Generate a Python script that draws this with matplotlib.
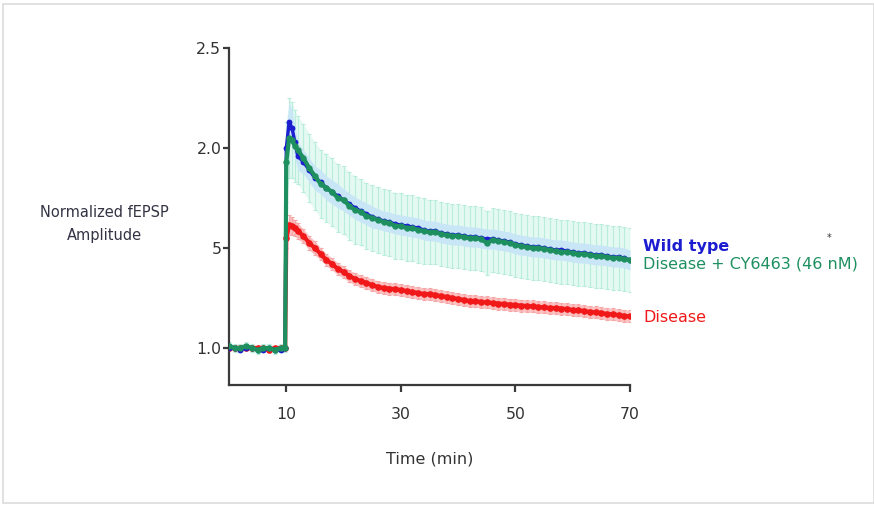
import numpy as np
import matplotlib
matplotlib.use("Agg")
import matplotlib.pyplot as plt
from matplotlib.patches import Rectangle

# ---------------- data ----------------
t_base = [0, 1, 2, 3, 4, 5, 6, 7, 8, 9, 9.8]
t_post = [10.0, 10.5, 11.0, 11.5] + list(range(12, 71))

green_base = [1.01, 1.00, 1.00, 1.01, 1.00, 0.99, 1.00, 1.00, 0.99, 1.00, 1.00]
blue_base = [1.00, 1.00, 0.99, 1.00, 1.00, 0.99, 0.99, 1.00, 0.99, 0.99, 1.00]
red_base = [1.00, 1.00, 1.00, 1.00, 1.00, 1.00, 1.00, 0.99, 1.00, 1.00, 1.00]

green_post = [1.93, 2.05, 2.04, 2.01, 1.99, 1.95, 1.90, 1.86, 1.82, 1.80,
              1.78, 1.75, 1.74, 1.71, 1.69, 1.68, 1.66, 1.65, 1.64, 1.63,
              1.625, 1.61, 1.61, 1.60, 1.60, 1.59, 1.585, 1.58, 1.58, 1.57,
              1.565, 1.56, 1.56, 1.555, 1.55, 1.55, 1.545, 1.525, 1.54, 1.535,
              1.53, 1.525, 1.515, 1.51, 1.505, 1.50, 1.50, 1.495, 1.49, 1.485,
              1.48, 1.48, 1.475, 1.47, 1.47, 1.465, 1.46, 1.46, 1.455, 1.45,
              1.45, 1.445, 1.44]
blue_post = [2.00, 2.13, 2.10, 2.03, 1.96, 1.93, 1.89, 1.85, 1.83, 1.80,
             1.78, 1.76, 1.74, 1.72, 1.70, 1.685, 1.67, 1.655, 1.645, 1.635,
             1.63, 1.62, 1.615, 1.61, 1.605, 1.60, 1.59, 1.585, 1.585, 1.575,
             1.57, 1.565, 1.565, 1.56, 1.555, 1.555, 1.55, 1.545, 1.545, 1.54,
             1.535, 1.53, 1.52, 1.515, 1.51, 1.505, 1.505, 1.50, 1.495, 1.49,
             1.49, 1.485, 1.48, 1.475, 1.475, 1.47, 1.465, 1.465, 1.46, 1.455,
             1.455, 1.45, 1.44]
red_post = [1.55, 1.615, 1.61, 1.60, 1.585, 1.56, 1.525, 1.50, 1.47, 1.44,
            1.42, 1.395, 1.38, 1.36, 1.345, 1.335, 1.325, 1.315, 1.305, 1.30,
            1.297, 1.294, 1.29, 1.285, 1.28, 1.275, 1.27, 1.27, 1.265, 1.26,
            1.255, 1.25, 1.245, 1.24, 1.235, 1.235, 1.23, 1.228, 1.225, 1.222,
            1.22, 1.217, 1.215, 1.212, 1.21, 1.208, 1.205, 1.203, 1.20, 1.20,
            1.197, 1.195, 1.19, 1.188, 1.185, 1.18, 1.178, 1.175, 1.17, 1.168,
            1.165, 1.16, 1.158]

green_err_base = [0.02, 0.02, 0.02, 0.02, 0.02, 0.02, 0.02, 0.02, 0.02, 0.02, 0.02]
blue_err_base = [0.01, 0.01, 0.01, 0.01, 0.01, 0.01, 0.01, 0.01, 0.01, 0.01, 0.01]
red_err_base = [0.01, 0.01, 0.01, 0.01, 0.01, 0.01, 0.01, 0.01, 0.01, 0.01, 0.01]

green_err_post = [0.20, 0.20, 0.19, 0.18, 0.17, 0.17, 0.17, 0.17, 0.17, 0.17,
                  0.17, 0.17, 0.17, 0.17, 0.17, 0.165, 0.165, 0.165, 0.165, 0.165,
                  0.165, 0.165, 0.165, 0.165, 0.165, 0.165, 0.165, 0.16, 0.16, 0.16,
                  0.16, 0.16, 0.16, 0.16, 0.16, 0.16, 0.16, 0.16, 0.16, 0.16,
                  0.16, 0.16, 0.16, 0.16, 0.16, 0.16, 0.16, 0.16, 0.16, 0.16,
                  0.16, 0.16, 0.16, 0.16, 0.16, 0.16, 0.16, 0.16, 0.16, 0.16,
                  0.16, 0.16, 0.16]
blue_err_post = [0.10, 0.10, 0.09, 0.08, 0.07, 0.06, 0.06, 0.06, 0.06, 0.06,
                 0.06, 0.06, 0.055, 0.055, 0.055, 0.055, 0.055, 0.055, 0.05, 0.05,
                 0.05, 0.05, 0.05, 0.05, 0.05, 0.05, 0.05, 0.05, 0.05, 0.05,
                 0.05, 0.05, 0.05, 0.05, 0.05, 0.05, 0.05, 0.05, 0.05, 0.05,
                 0.05, 0.05, 0.05, 0.05, 0.05, 0.05, 0.05, 0.05, 0.05, 0.05,
                 0.05, 0.05, 0.05, 0.05, 0.05, 0.05, 0.05, 0.05, 0.05, 0.05,
                 0.05, 0.05, 0.05]
red_err_post = [0.05, 0.05, 0.045, 0.04, 0.04, 0.035, 0.035, 0.035, 0.03, 0.03,
                0.03, 0.03, 0.03, 0.03, 0.03, 0.03, 0.03, 0.03, 0.03, 0.03,
                0.03, 0.03, 0.03, 0.03, 0.03, 0.03, 0.03, 0.03, 0.03, 0.03,
                0.03, 0.03, 0.03, 0.03, 0.03, 0.03, 0.03, 0.03, 0.03, 0.03,
                0.03, 0.03, 0.03, 0.03, 0.03, 0.03, 0.03, 0.03, 0.03, 0.03,
                0.03, 0.03, 0.03, 0.03, 0.03, 0.03, 0.03, 0.03, 0.03, 0.03,
                0.03, 0.03, 0.03]

series_names = ["Wild type", "Disease + CY6463 (46 nM)", "Disease"]
x_ticks = [10, 30, 50, 70]
y_ticks = [1.0, 1.5, 2.0, 2.5]
y_tick_labels = ["1.0", "5", "2.0", "2.5"]

# ---------------- figure ----------------
W, H = 874, 505
fig = plt.figure(figsize=(W / 100, H / 100), dpi=100)
fig.patches.append(Rectangle((3 / W, 2 / H), 1 - 3 / W, 1 - 6 / H,
                             transform=fig.transFigure, fill=False,
                             edgecolor="#dcdcdc", linewidth=1.2))

ax = fig.add_axes([229 / W, 1 - 385 / H, (630 - 229) / W, (385 - 48) / H])

t = np.array(t_base + t_post, dtype=float)

def arr(a, b):
    return np.array(a + b, dtype=float)

green = arr(green_base, green_post)
blue = arr(blue_base, blue_post)
red = arr(red_base, red_post)
g_err = arr(green_err_base, green_err_post)
b_err = arr(blue_err_base, blue_err_post)
r_err = arr(red_err_base, red_err_post)

c_green = "#1e9060"
c_blue = "#1c1cd0"
c_red = "#f01818"

# error bands
ax.fill_between(t, green - g_err, green + g_err, color="#e3f9f2", lw=0, zorder=1)
ax.errorbar(t, green, yerr=g_err, fmt="none", ecolor="#b8ecdd", elinewidth=0.8,
            capsize=1.5, capthick=0.8, zorder=1.2)
ax.fill_between(t, blue - b_err, blue + b_err, color="#c8e6f6", lw=0, zorder=1.5)
ax.fill_between(t, red - r_err, red + r_err, color="#fbc0c0", lw=0, zorder=1.5)
ax.errorbar(t, red, yerr=r_err, fmt="none", ecolor="#f6a8a8", elinewidth=0.8,
            capsize=1.5, capthick=0.8, zorder=1.6)

# mean traces
ax.plot(t, red, color=c_red, lw=3.0, marker="o", ms=4.8, mew=0, zorder=3)
ax.plot(t, blue, color=c_blue, lw=2.4, marker="o", ms=4.2, mew=0, zorder=3.2)
ax.plot(t, green, color=c_green, lw=3.0, marker="o", ms=4.6, mew=0, zorder=3.4)

ax.set_xlim(0, 70)
ax.set_ylim(0.815, 2.5)
ax.set_xticks(x_ticks)
ax.set_yticks(y_ticks, labels=y_tick_labels)

for side in ["top", "right"]:
    ax.spines[side].set_visible(False)
for side in ["left", "bottom"]:
    ax.spines[side].set_color("#3a3a3a")
    ax.spines[side].set_linewidth(1.6)

ax.tick_params(axis="x", direction="out", length=5, width=1.6, color="#3a3a3a",
               pad=11, labelsize=11.3, labelcolor="#333333")
ax.tick_params(axis="y", direction="out", length=4, width=1.6, color="#3a3a3a",
               pad=1.5, labelsize=11.3, labelcolor="#333333")

ax.set_xlabel("Time (min)", fontsize=11.5, color="#333333", labelpad=21)

fig.text(104 / W, 1 - 224 / H, "Normalized fEPSP\nAmplitude", ha="center",
         va="center", fontsize=10.5, color="#333344", linespacing=1.65)

# series labels at right end
ax.text(72.3, 1.505, series_names[0], color=c_blue, fontsize=11.5,
        fontweight="bold", va="center", ha="left", clip_on=False)
ax.text(72.3, 1.42, series_names[1], color=c_green, fontsize=11.5,
        va="center", ha="left", clip_on=False)
ax.text(72.3, 1.155, series_names[2], color=c_red, fontsize=11.5,
        va="center", ha="left", clip_on=False)
ax.text(104.8, 1.55, "*", color="#333333", fontsize=7, va="center",
        ha="center", clip_on=False)

fig.savefig("out.png", dpi=100)
